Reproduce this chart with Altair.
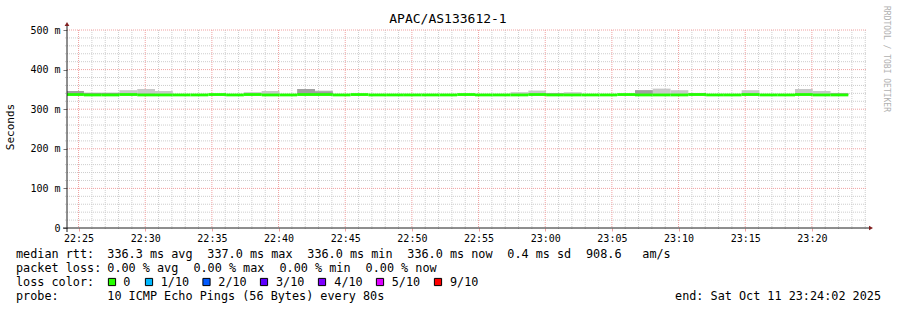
import altair as alt
import numpy as np
import pandas as pd

FONT = "DejaVu Sans Mono"

TITLE = "APAC/AS133612-1"
Y_TITLE = "Seconds"
WATERMARK = "RRDTOOL / TOBI OETIKER"

# ---- data ----
STEP_SECONDS = 80
FIRST_STEP = "2025-10-11 22:24:04"
WINDOW_START = "2025-10-11 22:24:08"
WINDOW_END = "2025-10-11 23:24:08"

median_ms = [
    337, 336, 336, 337, 336, 336, 336, 336, 337, 336,
    337, 336, 336, 337, 337, 336, 337, 336, 336, 336,
    336, 336, 337, 336, 336, 336, 337, 336, 336, 336,
    336, 337, 336, 336, 336, 337, 336, 336, 337, 336,
    336, 337, 336, 336,
]
smoke_dense_top = [
    346, 341, 341, 339, 339, 338, 336, 336, 337, 336,
    338, 338, 336, 351, 345, 336, 337, 336, 336, 336,
    336, 336, 337, 336, 336, 338, 338, 340, 338, 336,
    336, 337, 348, 338, 338, 340, 336, 336, 338, 336,
    336, 338, 338, 340,
]
smoke_max = [
    346, 342, 342, 348, 351, 346, 336, 336, 337, 336,
    343, 346, 336, 351, 347, 336, 337, 336, 336, 336,
    336, 336, 337, 336, 336, 343, 347, 341, 343, 336,
    336, 337, 348, 352, 348, 341, 336, 336, 348, 336,
    336, 351, 346, 341,
]

y_major = [0, 100, 200, 300, 400, 500]
y_minor = [v for v in range(20, 500, 20) if v % 100 != 0]
x_major = ["22:25", "22:30", "22:35", "22:40", "22:45", "22:50",
           "22:55", "23:00", "23:05", "23:10", "23:15", "23:20"]

rtt_names = ["avg", "max", "min", "now"]
rtt_values = [336.3, 337.0, 336.0, 336.0]
rtt_sd = 0.4
rtt_ams = 908.6
loss_values = [0.00, 0.00, 0.00, 0.00]
loss_labels = ["0", "1/10", "2/10", "3/10", "4/10", "5/10", "9/10"]
loss_colors = ["#26ff00", "#00b8ff", "#0059ff", "#5e00ff", "#7e00ff", "#dd00ff", "#ff0000"]
probe_text = "10 ICMP Echo Pings (56 Bytes) every 80s"
end_text = "end: Sat Oct 11 23:24:02 2025"

# ---- layout ----
W, H = 800, 198
PL, PT = 67, 30


def iso(ts):
    return ts.strftime("%Y-%m-%dT%H:%M:%SZ")


def ms(ts_str):
    return int(pd.Timestamp(ts_str, tz="UTC").value // 1_000_000)


n = len(median_ms)
t0 = pd.Timestamp(FIRST_STEP) + pd.to_timedelta(np.arange(n) * STEP_SECONDS, unit="s")
t1 = t0 + pd.Timedelta(seconds=STEP_SECONDS)
df = pd.DataFrame({
    "t0": [iso(t) for t in t0],
    "t1": [iso(t) for t in t1],
    "median": median_ms,
    "dense": smoke_dense_top,
    "max": smoke_max,
})

day = "2025-10-11 "
major_ms = [ms(day + s) for s in x_major]
minutes = pd.date_range(day + "22:25", day + "23:24", freq="1min")
minor_df = pd.DataFrame({"t": [iso(t) for t in minutes if t.minute % 5 != 0]})
major_df = pd.DataFrame({"t": [iso(pd.Timestamp(day + s)) for s in x_major]})
ymin_df = pd.DataFrame({"v": y_minor})
ymaj_df = pd.DataFrame({"v": [v for v in y_major if v > 0]})

xscale = alt.Scale(type="utc", domain=[ms(WINDOW_START), ms(WINDOW_END)])
yscale = alt.Scale(domain=[0, 500], nice=False, zero=True)

GRID = "#cdcdcd"
MGRID = "#f0a0a0"

y_label_expr = "datum.value == 0 ? '0\u00a0\u00a0' : datum.value + ' m'"
x_label_expr = "utcFormat(datum.value, '%H:%M')"
XAXIS = alt.Axis(
    values=major_ms, labelExpr=x_label_expr, title=None, grid=False, domain=False,
    tickSize=3, tickColor=MGRID, labelFont=FONT, labelFontSize=10, labelColor="#000000",
    labelPadding=2, labelFlush=False, labelOverlap=False)
YAXIS = alt.Axis(
    values=y_major, labelExpr=y_label_expr, title=None, grid=False, domain=False,
    tickSize=4, tickColor="#777777", labelFont=FONT, labelFontSize=10, labelColor="#000000",
    labelPadding=3)


def X(field):
    return alt.X(field, scale=xscale, axis=XAXIS)


def Y(field):
    return alt.Y(field, scale=yscale, axis=YAXIS)


minor_v = alt.Chart(minor_df).mark_rule(color=GRID, strokeDash=[1, 1], strokeWidth=1).encode(
    x=X("t:T"), y=alt.value(0), y2=alt.value(H + 2))
major_v = alt.Chart(major_df).mark_rule(color=MGRID, strokeDash=[1, 1], strokeWidth=1).encode(
    x=X("t:T"), y=alt.value(0), y2=alt.value(H))
minor_h = alt.Chart(ymin_df).mark_rule(color=GRID, strokeDash=[1, 1], strokeWidth=1).encode(
    y=Y("v:Q"), x=alt.value(-2), x2=alt.value(W))
major_h = alt.Chart(ymaj_df).mark_rule(color=MGRID, strokeDash=[1, 1], strokeWidth=1).encode(
    y=Y("v:Q"), x=alt.value(0), x2=alt.value(W))

smoke_light = alt.Chart(df).mark_rect(color="#c8c8c8", clip=True).encode(
    x=X("t0:T"), x2="t1:T", y=Y("median:Q"), y2="max:Q")
smoke_dark = alt.Chart(df).mark_rect(color="#a0a0a0", clip=True).encode(
    x=X("t0:T"), x2="t1:T", y=Y("median:Q"), y2="dense:Q")
median_line = alt.Chart(df).mark_rule(color="#22ff00", strokeWidth=2.8, strokeCap="butt", clip=True).encode(
    x=X("t0:T"), x2="t1:T", y=Y("median:Q"))

one = pd.DataFrame({"a": [0]})
y_axis_line = alt.Chart(one).mark_rule(color="#1f1f1f", strokeWidth=1).encode(
    x=alt.value(0), y=alt.value(-4), y2=alt.value(H + 4))
x_axis_line = alt.Chart(one).mark_rule(color="#1f1f1f", strokeWidth=1).encode(
    x=alt.value(-4), x2=alt.value(W + 2), y=alt.value(H))
arrow_up = alt.Chart(one).mark_point(shape="triangle-up", filled=True, color="#801f1f", size=22, opacity=1).encode(
    x=alt.value(0), y=alt.value(-6))
arrow_right = alt.Chart(one).mark_point(shape="triangle-right", filled=True, color="#801f1f", size=22, opacity=1).encode(
    x=alt.value(W + 4), y=alt.value(H))


def text(t, x, y, size=11.8, align="left", angle=0, color="#000000"):
    return alt.Chart(pd.DataFrame({"t": [t]})).mark_text(
        font=FONT, fontSize=size, align=align, baseline="middle", angle=angle, color=color
    ).encode(x=alt.value(x - PL), y=alt.value(y - PT), text="t:N")


layers = [minor_v, minor_h, major_v, major_h, smoke_light, smoke_dark, median_line,
          y_axis_line, x_axis_line, arrow_up, arrow_right]

layers.append(text(TITLE, 448, 19, size=13, align="center"))
layers.append(text(Y_TITLE, 11, 127, size=11, align="center", angle=270))
layers.append(text(WATERMARK, 886, 59, size=8, align="center", angle=90, color="#b0b0b0"))

ROW = [254, 268, 282, 296]
COL0 = 16
COL1 = 107.3
# row 1
layers.append(text("median rtt:", COL0, ROW[0]))
for i, (nm, v) in enumerate(zip(rtt_names, rtt_values)):
    layers.append(text(f"{v:.1f} ms {nm}", COL1 + 100 * i, ROW[0]))
layers.append(text(f"{rtt_sd:.1f} ms sd", COL1 + 400, ROW[0]))
layers.append(text(f"{rtt_ams:.1f}", 586, ROW[0]))
layers.append(text("am/s", 642.3, ROW[0]))
# row 2
layers.append(text("packet loss:", COL0, ROW[1]))
for i, (nm, v) in enumerate(zip(rtt_names, loss_values)):
    layers.append(text(f"{v:.2f} % {nm}", COL1 + 86.1 * i, ROW[1]))
# row 3
layers.append(text("loss color:", COL0, ROW[2]))
SQ_X = [112, 149, 206.5, 264, 322, 380, 438]
LB_X = [123.3, 160.7, 218.3, 276, 334.3, 391.7, 450]
for i, (lab, col) in enumerate(zip(loss_labels, loss_colors)):
    layers.append(alt.Chart(pd.DataFrame({"c": [col]})).mark_square(
        size=52, stroke="#000000", strokeWidth=1, opacity=1, fill=col).encode(
        x=alt.value(SQ_X[i] - PL), y=alt.value(ROW[2] - PT)))
    layers.append(text(lab, LB_X[i], ROW[2]))
# row 4
layers.append(text("probe:", COL0, ROW[3]))
layers.append(text(probe_text, COL1, ROW[3]))
layers.append(text(end_text, 881, ROW[3], align="right"))

chart = alt.layer(*layers).properties(
    width=W, height=H,
    autosize=alt.AutoSizeParams(type="none"),
    padding={"left": PL, "top": PT, "right": 897 - PL - W, "bottom": 310 - PT - H},
    background="#ffffff",
).configure_view(strokeWidth=0)

chart.save("out.html", embed_options={"renderer": "svg", "actions": False})
